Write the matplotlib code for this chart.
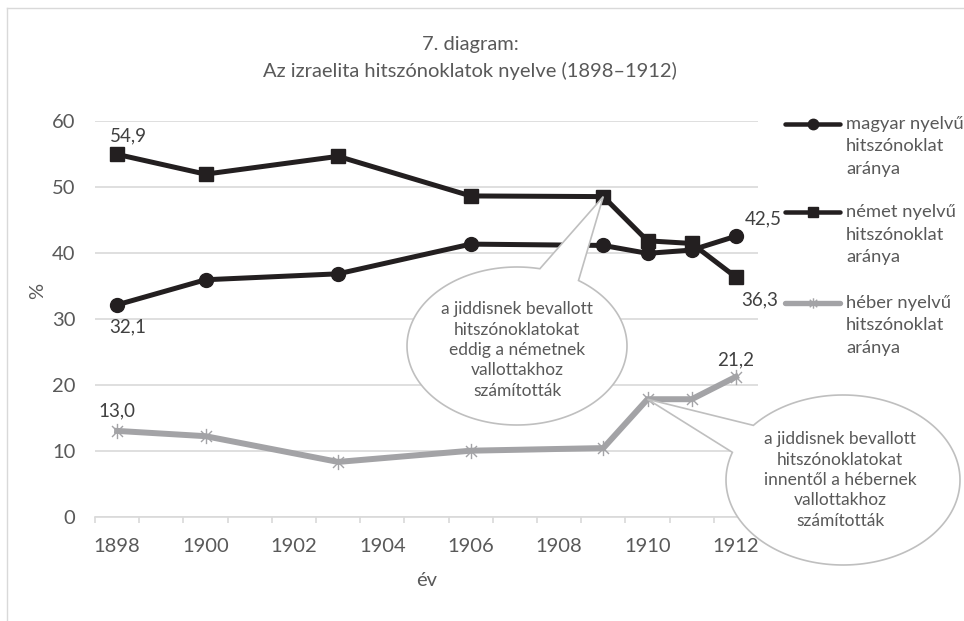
import numpy as np
import matplotlib
matplotlib.use("Agg")
import matplotlib.pyplot as plt
from matplotlib.path import Path
from matplotlib.patches import PathPatch
from matplotlib.lines import Line2D
from matplotlib.transforms import IdentityTransform

# === Daten
years = [1898, 1900, 1903, 1906, 1909, 1910, 1911, 1912]
magyar = [32.1, 35.9, 36.8, 41.3, 41.1, 39.9, 40.4, 42.5]
nemet = [54.9, 51.9, 54.6, 48.6, 48.5, 41.8, 41.4, 36.3]
heber = [13.0, 12.2, 8.3, 10.0, 10.4, 17.8, 17.8, 21.2]
year_ticks = list(range(1898, 1913, 2))
y_ticks = [0, 10, 20, 30, 40, 50, 60]
series_labels = [
    ["magyar nyelvű", "hitszónoklat", "aránya"],
    ["német nyelvű", "hitszónoklat", "aránya"],
    ["héber nyelvű", "hitszónoklat", "aránya"],
]
title = "7. diagram:\nAz izraelita hitszónoklatok nyelve (1898–1912)"
note1 = "a jiddisnek bevallott\nhitszónoklatokat\neddig a németnek\nvallottakhoz\nszámították"
note2 = "a jiddisnek bevallott\nhitszónoklatokat\ninnentől a hébernek\nvallottakhoz\nszámították"

# === Stil
W, H = 964, 621
TXT = "#595959"
DARK = "#404040"
BLACK = "#231f20"
GRAY = "#a3a3a6"
GRID = "#d9d9d9"
plt.rcParams["font.family"] = ["Lato", "DejaVu Sans"]
FS = 14.5

star = Path([(0, -1), (0, 1), (-0.72, -0.72), (0.72, 0.72), (-0.72, 0.72), (0.72, -0.72)],
            [Path.MOVETO, Path.LINETO] * 3)

fig = plt.figure(figsize=(W / 100, H / 100), dpi=100)
ax = fig.add_axes([95 / W, 1 - 516.7 / H, (758 - 95) / W, (516.7 - 120.7) / H])

styles = [
    dict(color=BLACK, lw=3.6, marker="o", ms=10, mec=BLACK, mfc=BLACK),
    dict(color=BLACK, lw=3.6, marker="s", ms=10, mec=BLACK, mfc=BLACK),
    dict(color=GRAY, lw=4.3, marker=star, ms=11, mec=GRAY, mew=1.0),
]
for vals, st in zip([magyar, nemet, heber], styles):
    ax.plot(years, vals, solid_joinstyle="miter", zorder=3, clip_on=False, **st)

ax.set_xlim(1897.5, 1912.5)
ax.set_ylim(0, 60)
ax.set_yticks(y_ticks)
ax.set_xticks(year_ticks)
ax.set_xticks(np.arange(1897.5, 1913, 1), minor=True)
ax.yaxis.grid(True, color=GRID, lw=1.2)
ax.set_axisbelow(True)
for s in ["top", "right", "left"]:
    ax.spines[s].set_visible(False)
ax.spines["bottom"].set_color(GRID)
ax.spines["bottom"].set_linewidth(1.2)
ax.tick_params(axis="x", which="major", length=0, pad=15, labelsize=FS, labelcolor=TXT)
ax.tick_params(axis="x", which="minor", length=4, width=1.2, color=GRID)
ax.tick_params(axis="y", length=0, pad=14, labelsize=FS, labelcolor=TXT)
ax.set_xlabel("év", fontsize=FS, color=TXT)
ax.set_ylabel("%", fontsize=FS, color=TXT)
ax.xaxis.set_label_coords((427 - 95) / 663, -(580 - 516.7) / 396, transform=ax.transAxes)
ax.yaxis.set_label_coords(-(95 - 38) / 663, (516.7 - 291) / 396, transform=ax.transAxes)
ax.xaxis.label.set_va("center")
ax.yaxis.label.set_va("center")

# === Datenbeschriftungen
def lab(x, y, dx, dy):
    ax.annotate(f"{y:.1f}".replace(".", ","), (x, y), xytext=(dx * 0.72, dy * 0.72),
                textcoords="offset points", ha="center", va="center",
                fontsize=13.5, color=DARK, zorder=5)

lab(years[0], nemet[0], 11, 18)
lab(years[0], magyar[0], 11, -22)
lab(years[0], heber[0], 0, 20)
lab(years[-1], magyar[-1], 27, 17)
lab(years[-1], nemet[-1], 24, -23)
lab(years[-1], heber[-1], 0, 17)

fig.text(470 / W, 1 - 58 / H, title, ha="center", va="center", fontsize=14.5,
         color=TXT, linespacing=1.65)

# === Legende
for i, (st, lines) in enumerate(zip(styles, series_labels)):
    yl = [124, 212, 303][i]
    yy = 1 - yl / H
    ln = Line2D([785 / W, 812.5 / W, 840 / W], [yy] * 3, transform=fig.transFigure,
                color=st["color"], lw=st["lw"] * 0.9, marker=st["marker"], ms=7.5,
                mec=st["color"], mfc=st["color"], markevery=[1], solid_capstyle="round")
    fig.add_artist(ln)
    for k, t in enumerate(lines):
        fig.text(846 / W, 1 - (yl + k * 22.5) / H, t, ha="left", va="center",
                 fontsize=13.2, color=TXT)

# === Sprechblasen
def bubble(cx, cy, a, b, t_start, t_end, tip):
    t = np.radians(np.linspace(t_start, t_end + 360, 200))
    xs = cx + a * np.cos(t)
    ys = (H - cy) + b * np.sin(t)
    verts = list(zip(xs, ys)) + [tuple(tip), (xs[0], ys[0])]
    codes = [Path.MOVETO] + [Path.LINETO] * (len(verts) - 2) + [Path.CLOSEPOLY]
    p = PathPatch(Path(verts, codes), transform=IdentityTransform(), facecolor="white",
                  edgecolor="#bfbfbf", lw=1.2, zorder=10)
    fig.add_artist(p)

tip1 = ax.transData.transform((years[4], nemet[4]))
tip2 = ax.transData.transform((years[5], heber[5]))
bubble(517, 346, 110, 79, 78, 56, tip1)
bubble(843, 480, 117, 85, 161, 140, tip2)
fig.text(517 / W, 1 - 350 / H, note1, ha="center", va="center", fontsize=12.5,
         color=TXT, linespacing=1.33, zorder=11)
fig.text(840 / W, 1 - 480 / H, note2, ha="center", va="center", fontsize=12.5,
         color=TXT, linespacing=1.33, zorder=11)

# === Rahmen
fig.add_artist(Line2D([7 / W, 7 / W], [0, 1 - 8 / H], transform=fig.transFigure, color=GRID, lw=1))
fig.add_artist(Line2D([7 / W, 1], [1 - 8 / H] * 2, transform=fig.transFigure, color=GRID, lw=1))

fig.savefig("out.png", dpi=100)
